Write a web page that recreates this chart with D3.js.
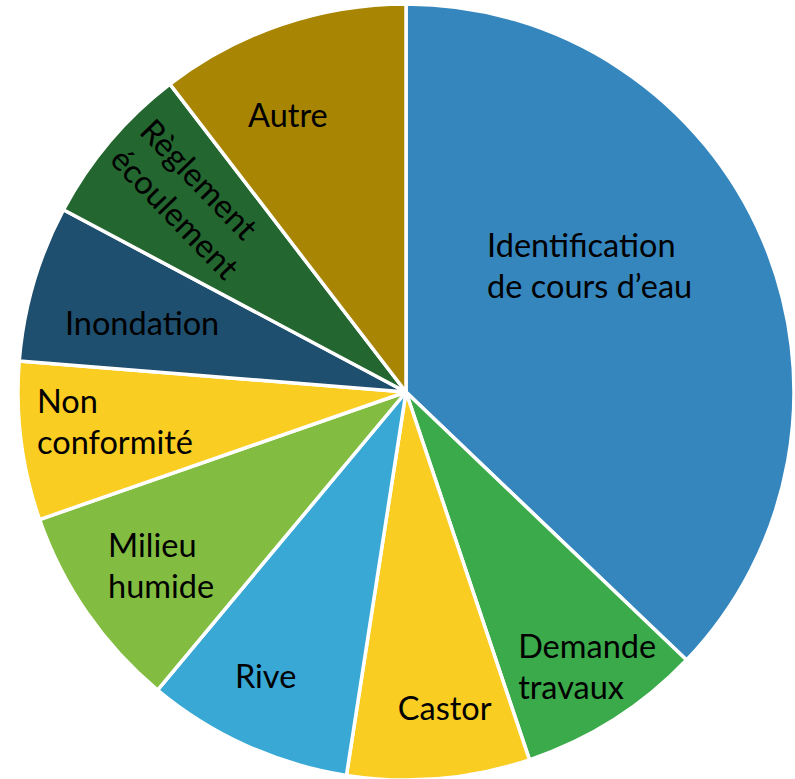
<!DOCTYPE html>
<html>
<head>
<meta charset="utf-8">
<script src="https://cdn.jsdelivr.net/npm/d3@7"></script>
<style>
  html, body { margin: 0; padding: 0; background: #fff; }
  svg { display: block; }
</style>
</head>
<body>
<div id="chart"></div>
<script>
// Slice data (share of requests, %)
const categories = ['Identification de cours d’eau', 'Demande travaux', 'Castor', 'Rive',
  'Milieu humide', 'Non conformité', 'Inondation', 'Règlement écoulement', 'Autre'];
const values = [37.1, 7.7, 7.6, 8.6, 8.6, 6.6, 6.5, 6.8, 10.4];
// Label text, one entry per line
const labelLines = [
  ['Identification', 'de cours d’eau'],
  ['Demande', 'travaux'],
  ['Castor'],
  ['Rive'],
  ['Milieu', 'humide'],
  ['Non', 'conformité'],
  ['Inondation'],
  ['Règlement', 'écoulement'],
  ['Autre']
];
const colors = ['#3686BE', '#3BAA4A', '#F9CD22', '#39A8D5', '#82BD42',
  '#F9CD22', '#1F4F6E', '#23662F', '#A98504'];

// label anchor (left edge / first baseline) relative to centre, in radius units, plus rotation
const labelLayout = [
  { x: 0.209, y: -0.348, rot: 0 },
  { x: 0.289, y: 0.686, rot: 0 },
  { x: -0.021, y: 0.845, rot: 0 },
  { x: -0.441, y: 0.763, rot: 0 },
  { x: -0.768, y: 0.425, rot: 0 },
  { x: -0.951, y: 0.054, rot: 0 },
  { x: -0.879, y: -0.147, rot: 0 },
  { x: -0.691, y: -0.668, rot: 46 },
  { x: -0.407, y: -0.683, rot: 0 }
];

const width = 795, height = 779;
const cx = 406, cy = 392, radius = 388;
const fontSize = 32.5, lineGap = 41;

const data = categories.map((c, i) => ({ name: c, value: values[i], lines: labelLines[i], color: colors[i], layout: labelLayout[i] }));

const svg = d3.select('#chart').append('svg')
  .attr('width', width)
  .attr('height', height);

const g = svg.append('g').attr('transform', `translate(${cx},${cy})`);

const pie = d3.pie().value(d => d.value).sort(null);
const arc = d3.arc().innerRadius(0).outerRadius(radius);

const arcs = pie(data);

g.selectAll('path')
  .data(arcs)
  .join('path')
  .attr('d', arc)
  .attr('fill', d => d.data.color)
  .attr('stroke', '#fff')
  .attr('stroke-width', 3.5)
  .attr('stroke-linejoin', 'round');

const labels = g.selectAll('text.lbl')
  .data(arcs)
  .join('text')
  .attr('class', 'lbl')
  .attr('font-family', 'Lato, "Open Sans", sans-serif')
  .attr('font-size', fontSize)
  .attr('fill', '#000')
  .attr('transform', d => {
    const l = d.data.layout;
    return `translate(${l.x * radius},${l.y * radius}) rotate(${l.rot})`;
  });

labels.selectAll('tspan')
  .data(d => d.data.lines)
  .join('tspan')
  .attr('x', 0)
  .attr('y', (d, i) => i * lineGap)
  .text(d => d);
</script>
</body>
</html>
